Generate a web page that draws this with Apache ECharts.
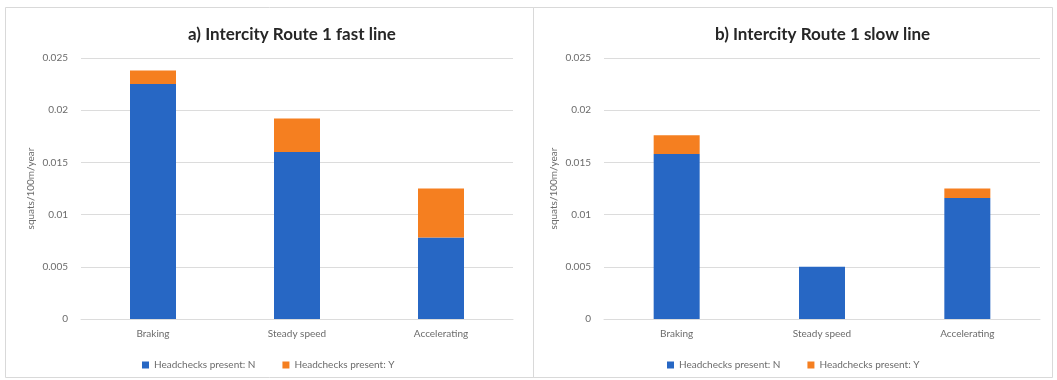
<!DOCTYPE html>
<html>
<head>
<meta charset="utf-8">
<script src="https://cdn.jsdelivr.net/npm/echarts@6/dist/echarts.min.js"></script>
<style>
  html, body { margin: 0; padding: 0; background: #ffffff; }
  #chart { width: 1057px; height: 380px; }
</style>
</head>
<body>
<div id="chart"></div>
<script>
// Squat rates by driving regime, split by whether headchecks are present
const categories = ['Braking', 'Steady speed', 'Accelerating'];
const yTicks = [0, 0.005, 0.01, 0.015, 0.02, 0.025];

const fastTitle = 'a) Intercity Route 1 fast line';
const fastNo  = [0.0225, 0.0160, 0.0078];
const fastYes = [0.0013, 0.0032, 0.0047];

const slowTitle = 'b) Intercity Route 1 slow line';
const slowNo  = [0.0158, 0.0050, 0.0116];
const slowYes = [0.0018, 0.0000, 0.0009];

const seriesNames = ['Headchecks present: N', 'Headchecks present: Y'];
const yAxisName = 'squats/100m/year';

const BLUE = '#2767c4';
const ORANGE = '#f57f20';
const FONT = 'Lato, "Open Sans", sans-serif';
const GRID_COLOR = '#dcdcdc';
const LABEL_COLOR = '#6b6b6b';

function xAxis(gridIndex) {
  return {
    type: 'category', gridIndex, data: categories,
    axisLine: { lineStyle: { color: GRID_COLOR } },
    axisTick: { show: false },
    axisLabel: { color: LABEL_COLOR, fontFamily: FONT, fontSize: 10, margin: 10 }
  };
}
function yAxis(gridIndex) {
  return {
    type: 'value', gridIndex, min: yTicks[0], max: yTicks[yTicks.length - 1], interval: 0.005,
    name: yAxisName, nameLocation: 'middle', nameGap: 45,
    nameTextStyle: { color: LABEL_COLOR, fontFamily: FONT, fontSize: 10 },
    axisLine: { show: false }, axisTick: { show: false },
    axisLabel: { color: LABEL_COLOR, fontFamily: FONT, fontSize: 10, margin: 13,
      formatter: v => String(parseFloat(v.toFixed(3))) },
    splitLine: { lineStyle: { color: GRID_COLOR } }
  };
}
function bars(name, data, idx, color) {
  return {
    name, type: 'bar', stack: 'panel' + idx, xAxisIndex: idx, yAxisIndex: idx,
    data, barWidth: 46, itemStyle: { color }, emphasis: { disabled: true }
  };
}
function legend(left) {
  return {
    left, top: 355, itemWidth: 7, itemHeight: 7, itemGap: 27, icon: 'rect',
    data: seriesNames,
    textStyle: { color: LABEL_COLOR, fontFamily: FONT, fontSize: 10 }
  };
}

const chart = echarts.init(document.getElementById('chart'), null, { renderer: 'canvas' });
chart.setOption({
  animation: false,
  backgroundColor: '#ffffff',
  color: [BLUE, ORANGE],
  title: [
    { text: fastTitle, left: 183, top: 21,
      textStyle: { fontFamily: FONT, fontSize: 17, fontWeight: 'bold', color: '#262626' } },
    { text: slowTitle, left: 710, top: 21,
      textStyle: { fontFamily: FONT, fontSize: 17, fontWeight: 'bold', color: '#262626' } }
  ],
  legend: [legend(137), legend(662)],
  grid: [
    { left: 81, right: 544, top: 58, bottom: 61 },
    { left: 604, right: 17, top: 58, bottom: 61 }
  ],
  xAxis: [xAxis(0), xAxis(1)],
  yAxis: [yAxis(0), yAxis(1)],
  series: [
    bars(seriesNames[0], fastNo, 0, BLUE),
    bars(seriesNames[1], fastYes, 0, ORANGE),
    bars(seriesNames[0], slowNo, 1, BLUE),
    bars(seriesNames[1], slowYes, 1, ORANGE)
  ],
  graphic: [
    { type: 'rect', shape: { x: 5.5, y: 7.5, width: 528, height: 370 },
      style: { fill: 'none', stroke: '#d9d9d9', lineWidth: 1 }, silent: true },
    { type: 'rect', shape: { x: 533.5, y: 7.5, width: 519, height: 370 },
      style: { fill: 'none', stroke: '#d9d9d9', lineWidth: 1 }, silent: true }
  ]
});
</script>
</body>
</html>
